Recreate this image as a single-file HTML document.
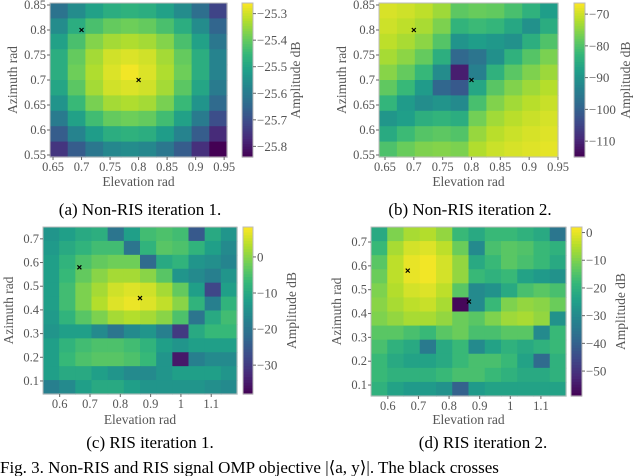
<!DOCTYPE html>
<html><head><meta charset="utf-8">
<style>
html,body{margin:0;padding:0;background:#fff;width:640px;height:476px;overflow:hidden}
svg, svg text{font-family:"Liberation Serif","DejaVu Serif",serif}
</style></head>
<body>
<svg id="fig" width="640" height="476" viewBox="0 0 640 476" xmlns="http://www.w3.org/2000/svg" font-family="Liberation Serif, serif">
<text x="140" y="215" font-size="17" text-anchor="middle" fill="#000">(a) Non-RIS iteration 1.</text>
<text x="470" y="215" font-size="17" text-anchor="middle" fill="#000">(b) Non-RIS iteration 2.</text>
<text x="150" y="448" font-size="17" text-anchor="middle" fill="#000">(c) RIS iteration 1.</text>
<text x="483" y="448" font-size="17" text-anchor="middle" fill="#000">(d) RIS iteration 2.</text>
<text x="0" y="473" font-size="17" fill="#000">Fig. 3.  Non-RIS and RIS signal OMP objective  |⟨a, y⟩|. The black crosses</text>
</svg>
<script>
// ---- data ----
const gridA = [
[-25.62,-25.56,-25.51,-25.48,-25.47,-25.48,-25.51,-25.56,-25.63,-25.72],
[-25.56,-25.48,-25.43,-25.40,-25.39,-25.40,-25.43,-25.48,-25.56,-25.65],
[-25.51,-25.43,-25.37,-25.34,-25.33,-25.34,-25.37,-25.43,-25.51,-25.61],
[-25.48,-25.40,-25.34,-25.30,-25.29,-25.30,-25.34,-25.40,-25.48,-25.58],
[-25.48,-25.39,-25.33,-25.29,-25.27,-25.29,-25.33,-25.39,-25.48,-25.58],
[-25.50,-25.41,-25.34,-25.30,-25.29,-25.30,-25.34,-25.41,-25.50,-25.60],
[-25.54,-25.45,-25.38,-25.34,-25.33,-25.34,-25.38,-25.45,-25.54,-25.64],
[-25.60,-25.51,-25.44,-25.40,-25.39,-25.40,-25.44,-25.51,-25.60,-25.70],
[-25.67,-25.58,-25.52,-25.48,-25.47,-25.48,-25.52,-25.58,-25.67,-25.77],
[-25.75,-25.67,-25.61,-25.57,-25.56,-25.57,-25.61,-25.67,-25.76,-25.84]];
const gridB = [
[-69.3,-70,-71.2,-73.6,-78.9,-77.9,-78.5,-80.8,-84,-88],
[-70.1,-71.2,-72.8,-76.2,-83.5,-82.1,-83,-86.1,-90.6,-85.1],
[-71.3,-72.8,-75,-79.7,-89.9,-88,-89.2,-90.6,-84.6,-80.1],
[-73,-75,-78.2,-84.7,-98.7,-96.2,-90.7,-84,-79.6,-76.4],
[-75.4,-78.2,-82.6,-91.6,-111,-93.8,-84,-79.2,-76.1,-73.8],
[-78.6,-82.5,-88.6,-99,-101.5,-86.3,-79.3,-75.8,-73.6,-71.9],
[-83.2,-88.6,-91.3,-90,-91.9,-80.9,-75.8,-73.3,-71.7,-70.5],
[-89.5,-87.9,-84.5,-83.5,-84.9,-77,-73.4,-71.6,-70.4,-69.5],
[-85.5,-82,-79.6,-78.9,-79.9,-74.2,-71.6,-70.3,-69.4,-68.8],
[-80.3,-77.8,-76.1,-75.6,-76.3,-72.2,-70.3,-69.4,-68.8,-68.3]];
const gridC = [
[-14,-12,-10,-9,-20,-12,-6,-5,-6,-25,-10,-14],
[-13,-10,-8,-6,-6,-20,-8,-4,-5,-8,-12,-16],
[-12,-8,-5,-3,-2,-2,-22,-10,-8,-14,-15,-17],
[-12,-7,-3,0,2,2,0,-4,-14,-16,-18,-14],
[-12,-6,-1,2,5,6,5,2,-3,-12,-28,-12],
[-12,-6,-1,3,6,7,6,4,0,-8,-18,-8],
[-13,-8,-4,-1,2,3,2,0,-5,-20,-10,-6],
[-14,-12,-12,-16,-20,-16,-14,-18,-30,-10,-7,-7],
[-12,-8,-6,-5,-5,-6,-8,-12,-14,-12,-12,-12],
[-12,-7,-5,-4,-4,-5,-7,-14,-35,-18,-16,-16],
[-12,-10,-10,-12,-14,-16,-16,-14,-12,-12,-12,-14],
[-18,-16,-12,-10,-10,-12,-14,-14,-14,-14,-15,-16]];
const gridD = [
[-22,-10,-6,-5,-8,-18,-22,-18,-18,-20,-22,-35],
[-18,-6,-2,-1,-4,-12,-30,-16,-14,-15,-18,-20],
[-14,-4,0,1,-2,-8,-22,-18,-14,-16,-18,-22],
[-12,-4,0,1,-2,-8,-18,-20,-18,-24,-26,-28],
[-10,-5,-2,-1,-4,-14,-30,-28,-22,-16,-14,-16],
[-9,-6,-4,-3,-6,-58,-30,-18,-10,-8,-9,-12],
[-10,-8,-6,-6,-8,-12,-14,-10,-7,-6,-8,-28],
[-14,-14,-16,-18,-14,-12,-16,-16,-14,-14,-30,-18],
[-16,-20,-22,-34,-22,-18,-30,-24,-20,-22,-20,-18],
[-18,-22,-24,-24,-22,-18,-16,-16,-18,-24,-38,-20],
[-18,-20,-20,-20,-18,-16,-16,-18,-20,-22,-22,-20],
[-20,-24,-26,-26,-28,-40,-26,-24,-24,-24,-24,-24]];
const crossesAB = [[0.7,0.8],[0.8,0.7]];
const crossesCD = [[0.665,0.58],[0.865,0.45]];
const xTicksAB = [0.65,0.7,0.75,0.8,0.85,0.9,0.95];
const yTicksAB = [0.55,0.6,0.65,0.7,0.75,0.8,0.85];
const xTicksCD = [0.6,0.7,0.8,0.9,1,1.1];
const yTicksCD = [0.1,0.2,0.3,0.4,0.5,0.6,0.7];
const cbTicksA = [-25.3,-25.4,-25.5,-25.6,-25.7,-25.8];
const cbTicksB = [-70,-80,-90,-100,-110];
const cbTicksC = [0,-10,-20,-30];
const cbTicksD = [0,-10,-20,-30,-40,-50];

// viridis colormap stops
const VIR=["#440154","#482878","#3e4989","#31688e","#26828e","#1f9e89","#35b779","#6ece58","#b5de2b","#fde725"];
function hex(h){return [1,3,5].map(i=>parseInt(h.substr(i,2),16));}
function viridis(t){t=Math.max(0,Math.min(1,t));const p=t*(VIR.length-1),i=Math.min(VIR.length-2,Math.floor(p)),f=p-i;const a=hex(VIR[i]),b=hex(VIR[i+1]);return `rgb(${a.map((v,k)=>Math.round(v+(b[k]-v)*f)).join(',')})`;}

const svg=document.getElementById('fig');const NS="http://www.w3.org/2000/svg";
function mk(tag,attrs,parent){const e=document.createElementNS(NS,tag);for(const k in attrs)e.setAttribute(k,attrs[k]);(parent||svg).appendChild(e);return e;}
function fmt(v){return (v<0?"\u2212":"")+String(Math.abs(v));}

function panel(P){
  const g=mk('g',{});
  
  
  const sx=v=>P.x0+(v-P.ex0)/(P.ex1-P.ex0)*(P.x1-P.x0);
  const sy=v=>P.y0+(P.ay1-v)/(P.ay1-P.ay0)*(P.y1-P.y0);
  const sc=v=>P.cy0+(P.cmax-v)/(P.cmax-P.cmin)*(P.cy1-P.cy0);
  const rows=P.grid.length,cols=P.grid[0].length;
  const cw=(P.x1-P.x0)/cols,ch=(P.y1-P.y0)/rows;
  P.grid.forEach((row,r)=>row.forEach((v,c)=>{
    const el=mk('rect',{x:P.x0+c*cw,y:P.y0+r*ch,width:cw+0.6,height:ch+0.6,fill:viridis((v-P.cmin)/(P.cmax-P.cmin))},g);
    
    
  }));
  const fr=mk('rect',{x:P.x0,y:P.y0,width:P.x1-P.x0,height:P.y1-P.y0,fill:'none',stroke:'#bbb','stroke-width':1},g);
  
  
  P.xt.forEach(t=>{const x=sx(t);
    mk('line',{x1:x,x2:x,y1:P.y1,y2:P.y1+3,stroke:'#666'},g);
    const tx=mk('text',{x:x,y:P.y1+14,'font-size':12.5,'text-anchor':'middle',fill:'#555'},g);tx.textContent=String(t);
    
    });
  P.yt.forEach(t=>{const y=sy(t);
    mk('line',{x1:P.x0-3,x2:P.x0,y1:y,y2:y,stroke:'#666'},g);
    const tx=mk('text',{x:P.x0-4,y:y+4,'font-size':12.5,'text-anchor':'end',fill:'#555'},g);tx.textContent=String(t);
    
    });
  P.cross.forEach(p=>{const x=sx(p[0]),y=sy(p[1]);
    const cr=mk('path',{d:`M${x-2},${y-2}L${x+2},${y+2}M${x-2},${y+2}L${x+2},${y-2}`,stroke:'#000','stroke-width':1.2},g);
    
    });
  const xl=mk('text',{x:(P.x0+P.x1)/2,y:P.xly,'font-size':13.5,'text-anchor':'middle',fill:'#555'},g);xl.textContent='Elevation rad';
  
  
  const yl=mk('text',{x:0,y:0,'font-size':13.5,'text-anchor':'middle',fill:'#555',transform:`translate(${P.ylx},${(P.y0+P.y1)/2}) rotate(-90)`},g);yl.textContent='Azimuth rad';
  
  
  const n=60,h=(P.cy1-P.cy0)/n;
  for(let i=0;i<n;i++){mk('rect',{x:P.cx0,y:P.cy0+i*h,width:P.cx1-P.cx0,height:h+0.6,fill:viridis(1-(i+0.5)/n)},g);}
  const cb=mk('rect',{x:P.cx0,y:P.cy0,width:P.cx1-P.cx0,height:P.cy1-P.cy0,fill:'none',stroke:'#bbb'},g);
  
  
  P.ct.forEach(t=>{const y=sc(t);
    mk('line',{x1:P.cx1,x2:P.cx1+3,y1:y,y2:y,stroke:'#666'},g);
    const tx=mk('text',{x:P.cx1+4,y:y+4.5,'font-size':13,fill:'#555'},g);tx.textContent=fmt(t);
    
    });
  const cl=mk('text',{x:0,y:0,'font-size':13.5,'text-anchor':'middle',fill:'#555',transform:`translate(${P.clx},${(P.cy0+P.cy1)/2}) rotate(-90)`},g);cl.textContent='Amplitude dB';
  
  
}
panel({name:'panel-a',grid:gridA,x0:50,x1:227,ex0:0.6447,ex1:0.955,y0:3,y1:157,ay0:0.546,ay1:0.854,
  cmin:-25.84,cmax:-25.26,cx0:242,cx1:253,cy0:3,cy1:157,xt:xTicksAB,yt:yTicksAB,ct:cbTicksA,cross:crossesAB,xly:186,ylx:17,clx:300});
panel({name:'panel-b',grid:gridB,x0:379,x1:558,ex0:0.6396,ex1:0.95,y0:3,y1:157,ay0:0.546,ay1:0.854,
  cmin:-115,cmax:-66.5,cx0:574,cx1:585,cy0:3,cy1:157,xt:xTicksAB,yt:yTicksAB,ct:cbTicksB,cross:crossesAB,xly:186,ylx:346,clx:630});
panel({name:'panel-c',grid:gridC,x0:43,x1:237,ex0:0.545,ex1:1.185,y0:227,y1:394,ay0:0.045,ay1:0.75,
  cmin:-38,cmax:8.3,cx0:243,cx1:253,cy0:227,cy1:394,xt:xTicksCD,yt:yTicksCD,ct:cbTicksC,cross:crossesCD,xly:424,ylx:13,clx:296});
panel({name:'panel-d',grid:gridD,x0:371,x1:566,ex0:0.545,ex1:1.182,y0:227,y1:396,ay0:0.054,ay1:0.763,
  cmin:-59,cmax:2,cx0:571,cx1:582,cy0:227,cy1:396,xt:xTicksCD,yt:yTicksCD,ct:cbTicksD,cross:crossesCD,xly:424,ylx:341,clx:625});
</script>
</body></html>
